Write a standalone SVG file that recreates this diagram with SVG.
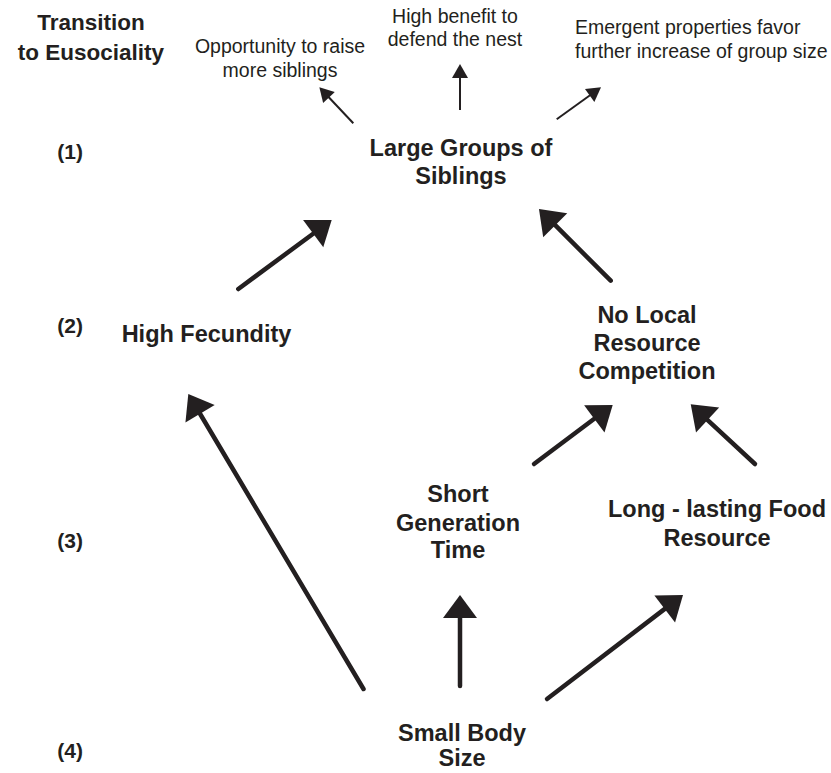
<svg xmlns="http://www.w3.org/2000/svg" width="831" height="773" viewBox="0 0 831 773">
<style>
.b{font-family:"Liberation Sans",Arial,sans-serif;font-weight:bold;font-size:23.5px;fill:#231f20;text-anchor:middle}
.h{font-family:"Liberation Sans",Arial,sans-serif;font-weight:bold;font-size:22.5px;fill:#231f20;text-anchor:middle}
.lv{font-family:"Liberation Sans",Arial,sans-serif;font-weight:bold;font-size:21px;fill:#231f20;text-anchor:end}
.s{font-family:"Liberation Sans",Arial,sans-serif;font-size:19.5px;fill:#231f20;text-anchor:middle}
.thick{stroke:#231f20;stroke-width:4.5;stroke-linecap:round;fill:none}
.thin{stroke:#231f20;stroke-width:2;stroke-linecap:butt;fill:none}
</style>
<defs>
<marker id="bigHead" markerUnits="userSpaceOnUse" orient="auto" refX="0" refY="0" markerWidth="60" markerHeight="60" viewBox="-30 -30 60 60" overflow="visible">
<path d="M-5,-17 L18,0 L-5,17 z" fill="#231f20"/>
</marker>
<marker id="smallHead" markerUnits="userSpaceOnUse" orient="auto" refX="0" refY="0" markerWidth="40" markerHeight="40" viewBox="-20 -20 40 40" overflow="visible">
<path d="M-3,-8 L11,0 L-3,8 z" fill="#231f20"/>
</marker>
</defs>
<rect width="831" height="773" fill="#ffffff"/>

<g id="title">
<text class="h" x="91" y="30">Transition</text>
<text class="h" x="91" y="60">to Eusociality</text>
</g>

<g id="levels">
<text class="lv" x="83" y="159">(1)</text>
<text class="lv" x="83" y="333">(2)</text>
<text class="lv" x="83" y="548">(3)</text>
<text class="lv" x="83" y="758">(4)</text>
</g>

<g id="opportunity">
<text class="s" x="280" y="53">Opportunity to raise</text>
<text class="s" x="280" y="77">more siblings</text>
</g>
<g id="defend">
<text class="s" x="455" y="23">High benefit to</text>
<text class="s" x="455" y="46">defend the nest</text>
</g>
<g id="emergent">
<text class="s" x="575" y="34" style="text-anchor:start">Emergent properties favor</text>
<text class="s" x="575" y="58" style="text-anchor:start">further increase of group size</text>
</g>

<g id="large-groups">
<text class="b" x="461" y="156">Large Groups of</text>
<text class="b" x="461" y="183.5">Siblings</text>
</g>
<g id="high-fecundity">
<text class="b" x="206.5" y="342">High Fecundity</text>
</g>
<g id="no-local">
<text class="b" x="647" y="323">No Local</text>
<text class="b" x="647" y="351">Resource</text>
<text class="b" x="647" y="378.5">Competition</text>
</g>
<g id="short-generation">
<text class="b" x="458" y="502">Short</text>
<text class="b" x="458" y="530.5">Generation</text>
<text class="b" x="458" y="558">Time</text>
</g>
<g id="long-lasting">
<text class="b" x="717" y="517">Long - lasting Food</text>
<text class="b" x="717" y="546">Resource</text>
</g>
<g id="small-body">
<text class="b" x="462" y="741">Small Body</text>
<text class="b" x="462" y="766">Size</text>
</g>

<g id="connectors">
<line class="thin" x1="353.3" y1="123.3" x2="326.9" y2="95.3" marker-end="url(#smallHead)"/>
<line class="thin" x1="460" y1="110" x2="460" y2="75" marker-end="url(#smallHead)"/>
<line class="thin" x1="556.7" y1="119.3" x2="592.1" y2="93.7" marker-end="url(#smallHead)"/>
<line class="thick" x1="238.3" y1="289" x2="317.2" y2="230.7" marker-end="url(#bigHead)"/>
<line class="thick" x1="610.7" y1="280.7" x2="551.7" y2="221.7" marker-end="url(#bigHead)"/>
<line class="thick" x1="534" y1="464" x2="598.3" y2="415.8" marker-end="url(#bigHead)"/>
<line class="thick" x1="755" y1="464" x2="703.9" y2="416.6" marker-end="url(#bigHead)"/>
<line class="thick" x1="363.5" y1="689" x2="197.5" y2="409.5" marker-end="url(#bigHead)"/>
<line class="thick" x1="460" y1="686" x2="460" y2="613" marker-end="url(#bigHead)"/>
<line class="thick" x1="547" y1="699" x2="668.7" y2="605.9" marker-end="url(#bigHead)"/>
</g>
</svg>
